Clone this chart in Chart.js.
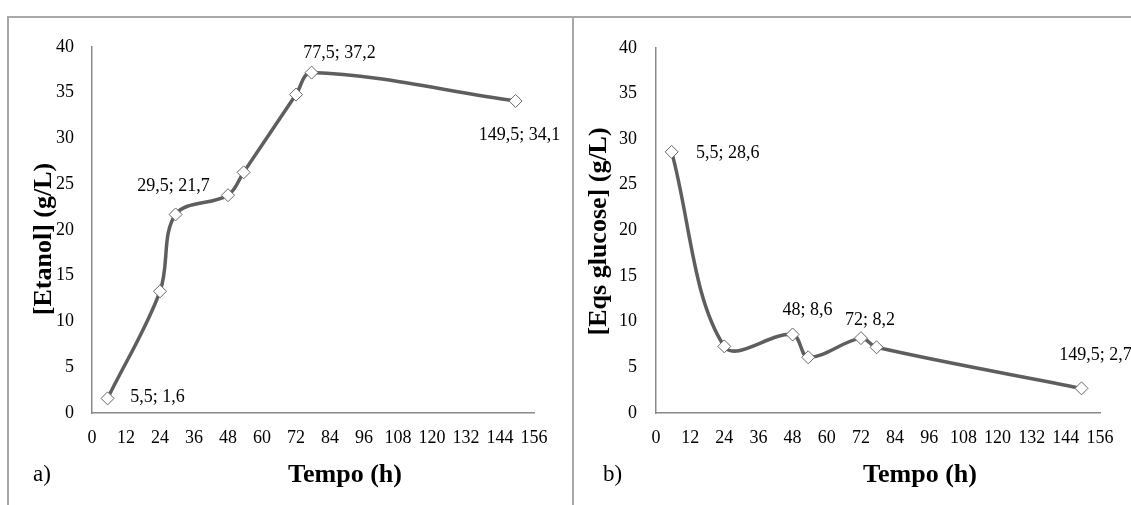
<!DOCTYPE html>
<html>
<head>
<meta charset="utf-8">
<script src="https://cdn.jsdelivr.net/npm/chart.js@4"></script>
<style>
  body { margin: 0; background: #fff; width: 1131px; height: 505px; overflow: hidden; position: relative; font-family: "Liberation Serif", serif; }
  .frame { position: absolute; top: 16px; left: 7px; right: 0; bottom: 0; border-top: 2px solid #a8a8a8; border-left: 2px solid #a8a8a8; }
  .divider { position: absolute; top: 16px; left: 572px; width: 2px; bottom: 0; background: #a8a8a8; }
  canvas { position: absolute; }
  #c1 { left: 9px; top: 18px; }
  #c2 { left: 574px; top: 18px; }
  .tag { position: absolute; font-size: 23px; top: 461px; color: #000; }
</style>
</head>
<body>
<div class="frame"></div>
<div class="divider"></div>
<canvas id="c1" width="563" height="487"></canvas>
<canvas id="c2" width="557" height="487"></canvas>
<div class="tag" style="left:33px">a)</div>
<div class="tag" style="left:603px">b)</div>
<script>
// data
const tempoEtanol = [5.5, 24, 29.5, 48, 53.5, 72, 77.5, 149.5];
const etanol = [1.6, 13.3, 21.7, 23.8, 26.3, 34.8, 37.2, 34.1];
const tempoGlucose = [5.5, 24, 48, 53.5, 72, 77.5, 149.5];
const glucose = [28.6, 7.3, 8.6, 6.1, 8.2, 7.2, 2.7];

// axes
const xMax = 156, xStep = 12;
const yMax = 40, yStep = 5;

// which points carry a value label
const etanolLabeled = [0, 2, 6, 7];
const glucoseLabeled = [0, 2, 4, 6];

const FONT = '"Liberation Serif", "Times New Roman", serif';
const LINE = '#5e5e5e';

const fmt = v => String(v).replace('.', ',');

// value labels + axis titles drawn by hand so they sit where Excel put them
const annotate = {
  id: 'annotate',
  afterDatasetsDraw(chart, args, opts) {
    const ctx = chart.ctx;
    const meta = chart.getDatasetMeta(0);
    const pts = chart.data.datasets[0].data;
    const area = chart.chartArea;
    ctx.save();
    ctx.fillStyle = '#000';
    ctx.textAlign = 'center';
    ctx.textBaseline = 'middle';
    ctx.font = '18px ' + FONT;
    opts.labeled.forEach((i, k) => {
      const el = meta.data[i];
      const [dx, dy] = opts.offsets[k];
      ctx.fillText(fmt(pts[i].x) + '; ' + fmt(pts[i].y), el.x + dx, el.y + dy);
    });
    ctx.font = 'bold 26px ' + FONT;
    ctx.fillText('Tempo (h)', (area.left + area.right) / 2 + opts.xTitle[0], opts.xTitle[1]);
    ctx.translate(opts.yTitle[0], (area.top + area.bottom) / 2 + opts.yTitle[1]);
    ctx.rotate(-Math.PI / 2);
    ctx.fillText(opts.yTitleText, 0, 0);
    ctx.restore();
  }
};

function makeChart(id, xs, ys, labeled, cfg) {
  return new Chart(document.getElementById(id), {
    type: 'scatter',
    data: {
      datasets: [{
        data: xs.map((x, i) => ({ x: x, y: ys[i] })),
        showLine: true,
        tension: 0.35,
        borderColor: LINE,
        borderWidth: 3.5,
        pointStyle: 'rectRot',
        pointRadius: 6.5,
        pointBackgroundColor: '#fff',
        pointBorderColor: '#666',
        pointBorderWidth: 1
      }]
    },
    options: {
      responsive: false,
      animation: false,
      devicePixelRatio: 1,
      layout: { padding: { top: 29, right: cfg.right, bottom: 0, left: 0 } },
      plugins: {
        legend: { display: false },
        tooltip: { enabled: false },
        annotate: {
          labeled: labeled,
          offsets: cfg.offsets,
          xTitle: cfg.xTitle,
          yTitle: cfg.yTitle,
          yTitleText: cfg.yTitleText
        }
      },
      scales: {
        x: {
          type: 'linear',
          min: 0,
          max: xMax,
          afterFit: s => { s.height = 92; },
          grid: { display: false, drawTicks: false },
          border: { color: '#8a8a8a', width: 1.5 },
          ticks: { stepSize: xStep, color: '#000', font: { family: FONT, size: 18 }, padding: 14, maxRotation: 0, autoSkip: false }
        },
        y: {
          min: 0,
          max: yMax,
          afterFit: s => { s.width = cfg.yWidth; },
          grid: { display: false, drawTicks: false },
          border: { color: '#8a8a8a', width: 1.5 },
          ticks: { stepSize: yStep, color: '#000', font: { family: FONT, size: 18 }, padding: cfg.yPad }
        }
      }
    },
    plugins: [annotate]
  });
}

makeChart('c1', tempoEtanol, etanol, etanolLabeled, {
  right: 38,
  yWidth: 83,
  yPad: 18,
  offsets: [[50, -1], [-2, -28], [28, -19], [4, 34]],
  xTitle: [32, 457],
  yTitle: [35, 9],
  yTitleText: '[Etanol] (g/L)'
});

makeChart('c2', tempoGlucose, glucose, glucoseLabeled, {
  right: 31,
  yWidth: 82,
  yPad: 19,
  offsets: [[56, 1], [15, -24], [9, -18], [14, -33]],
  xTitle: [42, 457],
  yTitle: [25, 1],
  yTitleText: '[Eqs glucose] (g/L)'
});
</script>
</body>
</html>
